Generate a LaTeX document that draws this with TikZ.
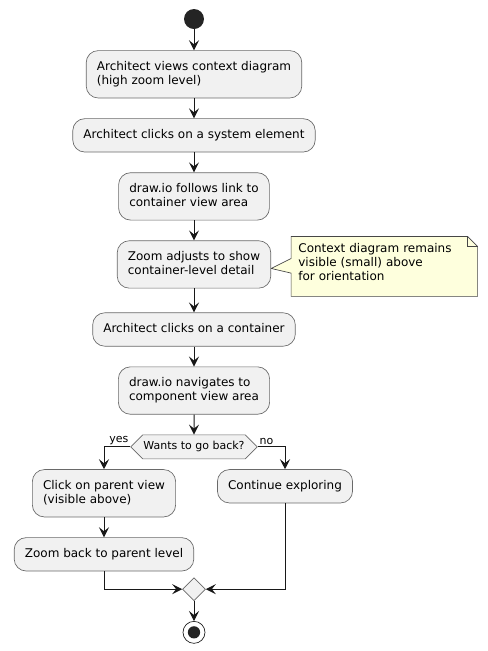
\documentclass[tikz,border=0pt]{standalone}
\usepackage{fontspec}
\setmainfont{DejaVu Sans}
\usetikzlibrary{positioning, calc, shapes.symbols, shapes.geometric, arrows.meta, backgrounds}

\definecolor{actfill}{HTML}{F1F1F1}
\definecolor{actline}{HTML}{181818}
\definecolor{notefill}{HTML}{FEFFDD}

\tikzset{
    act/.style={rectangle, rounded corners=9pt, draw=actline!65, line width=0.5pt, fill=actfill,
        align=left, inner xsep=8pt, inner ysep=8pt, text depth=2.2pt, font=\fontsize{9}{10.5}\selectfont},
    choice/.style={signal, signal to=west and east, signal pointer angle=90, draw=actline!65,
        line width=0.5pt, fill=actfill, inner xsep=0.5pt, inner ysep=2pt, minimum height=18pt,
        font=\fontsize{8.25}{10}\selectfont},
    merge/.style={diamond, aspect=1, draw=actline!65, line width=0.5pt, fill=actfill,
        inner sep=0pt, minimum size=17.25pt},
    startdot/.style={circle, fill=actline!95, inner sep=0pt, minimum size=15pt},
    stopdot/.style={circle, draw=actline, line width=0.5pt, fill=white, inner sep=0pt, minimum size=16.5pt,
        path picture={\fill[actline!95] (path picture bounding box.center) circle (4.6pt);}},
    note/.style={rectangle, align=left, text width=129pt, inner xsep=5.25pt, inner ysep=5.25pt,
        font=\fontsize{9}{10.5}\selectfont},
    noteline/.style={draw=actline!80, line width=0.5pt, fill=notefill},
    flow/.style={draw=actline, line width=0.75pt, -{Stealth[length=7.5pt, width=7.5pt, inset=3pt]}},
    lbl/.style={inner sep=1pt, font=\fontsize{8.25}{10}\selectfont},
}

\begin{document}
\begin{tikzpicture}[node distance=15pt]
    \useasboundingbox (0,0) rectangle (366pt,-488.25pt);

    % main column
    \node[startdot] (start) at (145.5pt,-14.25pt) {};
    \node[act, below=15.75pt of start] (views) {Architect views context diagram\\(high zoom level)};
    \node[act, below=of views] (system) {Architect clicks on a system element};
    \node[act, below=of system] (follows) {draw.io follows link to\\container view area};
    \node[act, below=of follows] (adjusts) {Zoom adjusts to show\\container-level detail};
    \node[act, below=18pt of adjusts] (container) {Architect clicks on a container};
    \node[act, below=of container] (navigates) {draw.io navigates to\\component view area};
    \node[choice, below=of navigates] (back) {Wants to go back?};

    % branches
    \node[act, below=7.5pt of back, xshift=-67.5pt] (parent) {Click on parent view\\(visible above)};
    \node[act, below=7.5pt of back, xshift=68.25pt] (explore) {Continue exploring};
    \node[act, below=of parent] (zoomback) {Zoom back to parent level};
    \node[merge, below=4.5pt] (join) at (zoomback.south -| back) {};
    \node[stopdot, below=of join] (stop) {};

    % note
    \node[note, right=15pt of adjusts, yshift=1.5pt] (remark) {Context diagram remains\\visible (small) above\\for orientation};
    \begin{pgfonlayer}{background}
        \draw[noteline] (remark.north west) -- ($(remark.north east)+(-7.5pt,0)$)
            -- ($(remark.north east)+(0,-7.5pt)$) -- ($(remark.south east)+(0,-6pt)$)
            -- ($(remark.south west)+(0,-6pt)$)
            -- ($(remark.west)+(0,-8pt)$) -- ($(adjusts.east)+(0,-3pt)$)
            -- ($(remark.west)+(0,3pt)$) -- cycle;
        \draw[noteline, fill=none] ($(remark.north east)+(-7.5pt,0)$) -- ($(remark.north east)+(-7.5pt,-7.5pt)$)
            -- ($(remark.north east)+(0,-7.5pt)$);
    \end{pgfonlayer}

    % connectors
    \draw[flow] (start) -- (views);
    \draw[flow] (views) -- (system);
    \draw[flow] (system) -- (follows);
    \draw[flow] (follows) -- (adjusts);
    \draw[flow] (adjusts) -- (container);
    \draw[flow] (container) -- (navigates);
    \draw[flow] (navigates) -- (back);
    \draw[flow] (back.west) -| node[lbl, pos=0, anchor=south east] {yes} (parent);
    \draw[flow] (back.east) -| node[lbl, pos=0, anchor=south west] {no} (explore);
    \draw[flow] (parent) -- (zoomback);
    \draw[flow] (zoomback) |- (join);
    \draw[flow] (explore) |- (join);
    \draw[flow] (join) -- (stop);
\end{tikzpicture}
\end{document}
